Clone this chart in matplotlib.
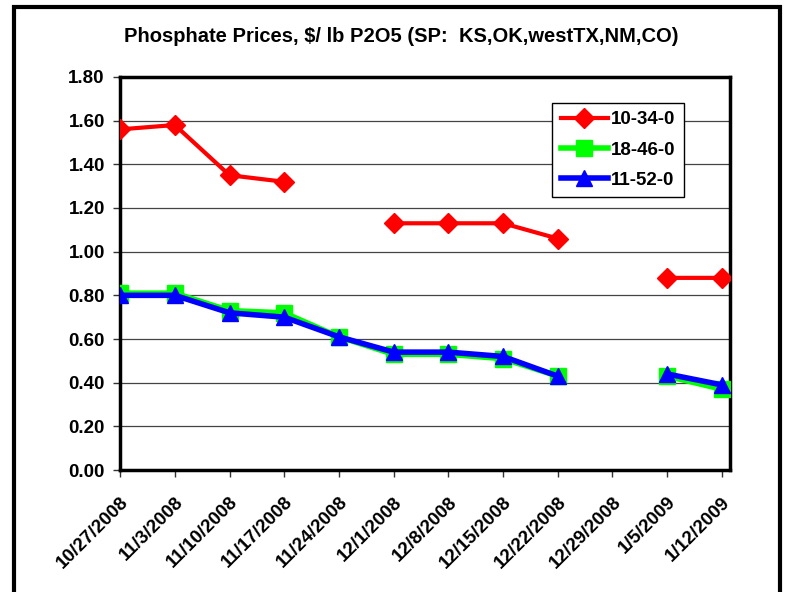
import numpy as np
import matplotlib.pyplot as plt
from matplotlib.patches import Rectangle

plt.rcParams['font.family'] = ['Liberation Sans', 'DejaVu Sans']
plt.rcParams['font.weight'] = 'bold'

dates = ["10/27/2008", "11/3/2008", "11/10/2008", "11/17/2008", "11/24/2008",
         "12/1/2008", "12/8/2008", "12/15/2008", "12/22/2008", "12/29/2008",
         "1/5/2009", "1/12/2009"]
nan = np.nan
p_10_34_0 = [1.56, 1.58, 1.35, 1.32, nan, 1.13, 1.13, 1.13, 1.06, nan, 0.88, 0.88]
p_18_46_0 = [0.81, 0.81, 0.73, 0.72, 0.61, 0.53, 0.53, 0.51, 0.43, nan, 0.43, 0.37]
p_11_52_0 = [0.80, 0.80, 0.72, 0.70, 0.61, 0.54, 0.54, 0.52, 0.43, nan, 0.44, 0.39]

fig = plt.figure(figsize=(7.85, 5.92), dpi=100)
ax = fig.add_axes([0.153, 0.206, 0.777, 0.664])

x = np.arange(len(dates))
ax.plot(x, p_10_34_0, color='#ff0000', lw=3, marker='D', ms=10, label='10-34-0', zorder=3)
ax.plot(x, p_18_46_0, color='#00ff00', lw=4, marker='s', ms=11, label='18-46-0', zorder=4)
ax.plot(x, p_11_52_0, color='#0000ff', lw=4, marker='^', ms=12, label='11-52-0', zorder=5)

ax.set_xlim(0, 11.15)
ax.set_ylim(0, 1.8)
yt = np.arange(0, 1.81, 0.2)
ax.set_yticks(yt)
ax.set_yticklabels(["%.2f" % v for v in yt], fontsize=13.5, fontweight='bold')
ax.set_xticks(x)
ax.set_xticklabels(dates, rotation=45, ha='right', rotation_mode='anchor',
                   fontsize=13.5, fontweight='bold')
ax.tick_params(axis='both', length=5, width=1, color='#333333', pad=6)
ax.tick_params(axis='x', pad=12)
ax.grid(axis='y', color='#444444', lw=0.9)
ax.set_axisbelow(True)
for s in ax.spines.values():
    s.set_linewidth(2.5)
    s.set_color('black')

fig.text(401 / 785, 1 - 37 / 592, "Phosphate Prices, $/ lb P2O5 (SP:  KS,OK,westTX,NM,CO)",
         fontsize=14.5, fontweight='bold', ha='center', va='center')

leg = ax.legend(loc='upper right', bbox_to_anchor=(0.925, 0.934), fontsize=13.5,
                frameon=True, fancybox=False, edgecolor='black', handlelength=2.5,
                labelspacing=0.7, borderpad=0.45, handletextpad=0.2, borderaxespad=0)
leg.get_frame().set_linewidth(1)
leg.get_frame().set_alpha(1)

fig.patches.append(Rectangle((14 / 785, -0.05), (780 - 14) / 785, (592 - 7) / 592 + 0.05,
                             transform=fig.transFigure, fill=False, lw=3,
                             edgecolor='black', clip_on=False))

fig.savefig('out.png', dpi=100)
